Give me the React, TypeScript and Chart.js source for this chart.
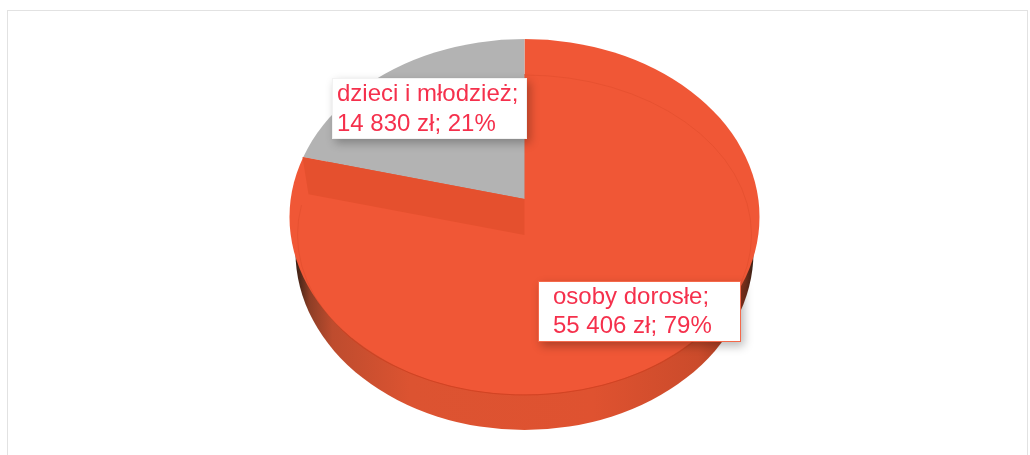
import React, { useEffect, useRef } from "react";
import { Chart, registerables } from "chart.js";

Chart.register(...registerables);

const categories = ["osoby dorosłe", "dzieci i młodzież"];
const values = [55406, 14830];
const valueLabels = ["55 406 zł", "14 830 zł"];
const percentLabels = ["79%", "21%"];
const sliceColors = ["#F05736", "#B3B3B3"];

const W = 1030;
const H = 455;
const CX = 524.5;
const TILT = 178 / 235;
const FONT = '24px "Liberation Sans", Arial, sans-serif';

const labelBoxes = [
  { x: 538, y: 281, w: 203, h: 61, tx: 553, b1: 304, b2: 333, edge: "#F4694B" },
  { x: 332, y: 78, w: 195, h: 61, tx: 337, b1: 101, b2: 131, edge: "#F2F2F2" },
];

const pie3d = {
  id: "pie3d",
  beforeDatasetsDraw(chart: any) {
    const { ctx } = chart;
    const arc = chart.getDatasetMeta(0).data[0];
    // side wall
    const g = ctx.createLinearGradient(296, 0, 753, 0);
    g.addColorStop(0, "#3A2015");
    g.addColorStop(0.03, "#8E3E26");
    g.addColorStop(0.08, "#BE4C2E");
    g.addColorStop(0.25, "#DC5331");
    g.addColorStop(0.65, "#DF5230");
    g.addColorStop(0.88, "#CB4B2B");
    g.addColorStop(0.97, "#A03A20");
    g.addColorStop(1, "#3A2015");
    ctx.save();
    ctx.fillStyle = g;
    ctx.beginPath();
    ctx.ellipse(CX, 252, 229, 178, 0, 0, Math.PI * 2);
    ctx.fill();
    ctx.restore();
    // top face: the chart's own arcs, clipped to the outer ellipse
    ctx.save();
    ctx.beginPath();
    ctx.ellipse(CX, 217, 235, 178, 0, 0, Math.PI * 2);
    ctx.clip();
    const big = 320 / arc.outerRadius;
    ctx.translate(CX, 199);
    ctx.scale(big, big * TILT);
    ctx.translate(-arc.x, -arc.y);
  },
  afterDatasetsDraw(chart: any) {
    const { ctx } = chart;
    ctx.restore();
    const arc = chart.getDatasetMeta(0).data[1];
    const a = arc.startAngle;
    const slope = (Math.sin(a) * TILT) / Math.cos(a);
    // darker cut wall beneath the grey slice
    ctx.save();
    ctx.fillStyle = "#E5502E";
    ctx.beginPath();
    ctx.moveTo(CX, 199);
    ctx.lineTo(CX - 222, 199 - 222 * slope);
    ctx.lineTo(CX - 216, 235 - 216 * slope);
    ctx.lineTo(CX, 235);
    ctx.closePath();
    ctx.fill();
    // faint rim of the lower face
    ctx.strokeStyle = "rgba(205,62,32,0.25)";
    ctx.lineWidth = 1;
    ctx.beginPath();
    ctx.ellipse(CX, 235, 227, 160, 0, -Math.PI / 2, Math.PI * 1.06);
    ctx.stroke();
    ctx.strokeStyle = "rgba(205,62,32,0.7)";
    ctx.beginPath();
    ctx.ellipse(CX, 235, 227, 160, 0, Math.PI * 0.2, Math.PI * 0.8);
    ctx.stroke();
    ctx.restore();
    // labels
    categories.forEach((name, i) => {
      const b = labelBoxes[i];
      ctx.save();
      ctx.shadowColor = "rgba(0,0,0,0.28)";
      ctx.shadowBlur = 9;
      ctx.shadowOffsetX = 3;
      ctx.shadowOffsetY = 4;
      ctx.fillStyle = "#FFFFFF";
      ctx.fillRect(b.x, b.y, b.w, b.h);
      ctx.restore();
      ctx.save();
      ctx.strokeStyle = b.edge;
      ctx.lineWidth = 1;
      ctx.strokeRect(b.x + 0.5, b.y + 0.5, b.w - 1, b.h - 1);
      ctx.fillStyle = "#F5304C";
      ctx.font = FONT;
      ctx.textBaseline = "alphabetic";
      ctx.fillText(name + ";", b.tx, b.b1);
      ctx.fillText(valueLabels[i] + "; " + percentLabels[i], b.tx, b.b2);
      ctx.restore();
    });
  },
};

export default function App() {
  const ref = useRef<HTMLCanvasElement>(null);
  useEffect(() => {
    const chart = new Chart(ref.current as HTMLCanvasElement, {
      type: "pie",
      data: {
        labels: categories,
        datasets: [{ data: values, backgroundColor: sliceColors, borderWidth: 0 }],
      },
      options: {
        animation: false,
        responsive: false,
        layout: { padding: 0 },
        plugins: { legend: { display: false }, tooltip: { enabled: false } },
      },
      plugins: [pie3d],
    } as any);
    return () => chart.destroy();
  }, []);
  return (
    <div style={{ position: "absolute", left: 0, top: 0, width: W, height: H, overflow: "hidden", background: "#fff" }}>
      <canvas ref={ref} width={W} height={H} style={{ display: "block", filter: "blur(0.5px)" }} />
      <div
        style={{
          position: "absolute",
          left: 7,
          top: 10,
          width: 1021,
          height: 460,
          boxSizing: "border-box",
          borderTop: "1.5px solid #E2E2E2",
          borderLeft: "1.5px solid #E2E2E2",
          borderRight: "1.5px solid #E2E2E2",
        }}
      />
    </div>
  );
}
